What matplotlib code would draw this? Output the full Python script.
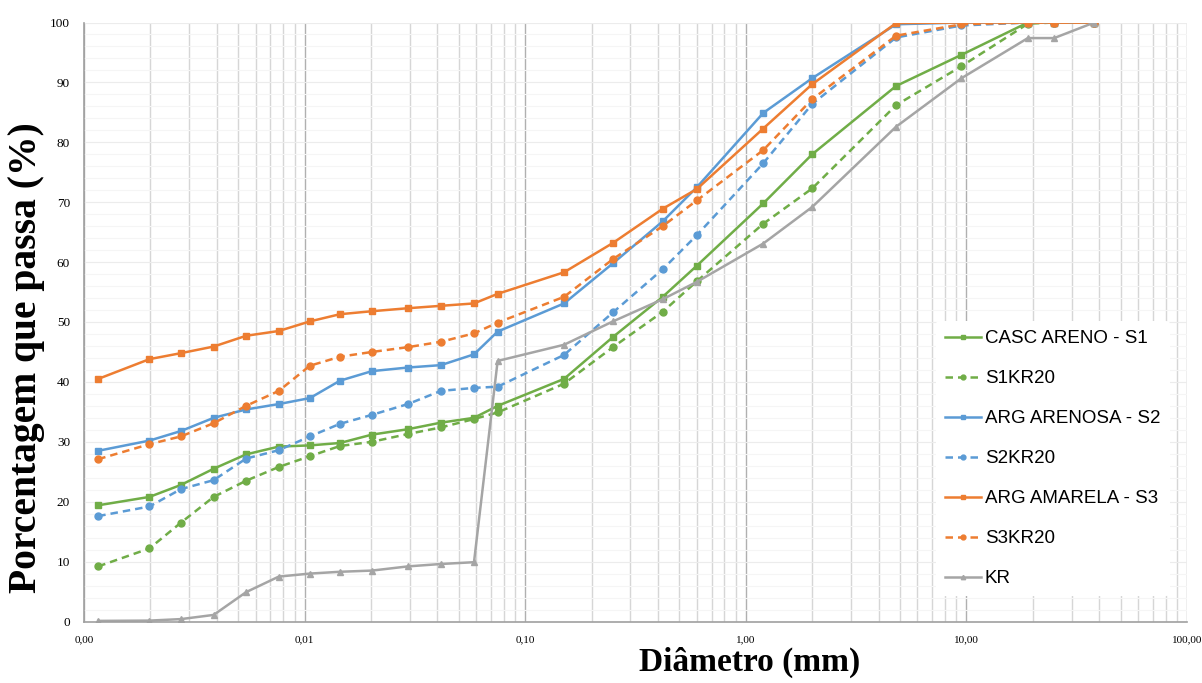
import matplotlib
matplotlib.use('Agg')
import matplotlib.pyplot as plt
from matplotlib.ticker import FixedLocator, LogLocator, MultipleLocator, NullFormatter

# diâmetros (mm): sedimentação + peneiramento
diam = [0.00116, 0.00198, 0.00275, 0.00387, 0.00543, 0.00764, 0.01057, 0.01446,
        0.0202, 0.0294, 0.0415, 0.0586, 0.075, 0.15, 0.25, 0.42, 0.6, 1.2, 2.0,
        4.8, 9.5, 19.0, 25.0, 38.0]

s1 = [19.4, 20.8, 22.8, 25.5, 27.9, 29.2, 29.4, 29.8, 31.2, 32.1, 33.2, 34.0,
      36.0, 40.5, 47.5, 54.2, 59.4, 69.8, 78.0, 89.4, 94.6, 100, 100, 100]
s1kr20 = [9.2, 12.2, 16.5, 20.8, 23.5, 25.8, 27.6, 29.3, 30.0, 31.3, 32.4, 33.8,
          34.9, 39.7, 45.8, 51.7, 56.8, 66.4, 72.3, 86.2, 92.7, 99.8, 100, 100]
s2 = [28.5, 30.2, 31.8, 34.0, 35.4, 36.3, 37.3, 40.2, 41.8, 42.4, 42.8, 44.6,
      48.4, 53.1, 59.8, 66.8, 72.5, 84.9, 90.7, 99.7, 100, 100, 100, 100]
s2kr20 = [17.6, 19.2, 22.1, 23.6, 27.2, 28.6, 30.9, 33.0, 34.5, 36.3, 38.5, 39.0,
          39.2, 44.5, 51.6, 58.8, 64.5, 76.5, 86.4, 97.5, 99.5, 100, 100, 100]
s3 = [40.5, 43.8, 44.8, 45.9, 47.7, 48.5, 50.1, 51.3, 51.8, 52.3, 52.7, 53.1,
      54.7, 58.3, 63.2, 68.9, 72.2, 82.3, 89.7, 99.9, 100, 100, 100, 100]
s3kr20 = [27.1, 29.6, 30.9, 33.1, 36.0, 38.5, 42.7, 44.2, 45.0, 45.8, 46.7, 48.1,
          49.9, 54.2, 60.5, 66.0, 70.3, 78.7, 87.2, 97.8, 99.7, 100, 100, 100]
kr = [0.1, 0.15, 0.4, 1.1, 4.9, 7.5, 8.0, 8.3, 8.5, 9.2, 9.6, 9.9,
      43.5, 46.2, 50.1, 53.8, 56.7, 63.1, 69.2, 82.6, 90.7, 97.4, 97.4, 100]

xticks = [0.001, 0.01, 0.1, 1, 10, 100]
xticklabels = ['0,00', '0,01', '0,10', '1,00', '10,00', '100,00']

verde = '#70AD47'
azul = '#5B9BD5'
laranja = '#ED7D31'
cinza = '#A5A5A5'

fig = plt.figure(figsize=(12.02, 6.83), dpi=100)
ax = fig.add_axes([84 / 1202, 1 - 621.5 / 683, 1103 / 1202, 599 / 683])

series = [
    (s1, 'CASC ARENO - S1', verde, '-', 's', 5),
    (s1kr20, 'S1KR20', verde, '--', 'o', 5),
    (s2, 'ARG ARENOSA - S2', azul, '-', 's', 5),
    (s2kr20, 'S2KR20', azul, '--', 'o', 5),
    (s3, 'ARG AMARELA - S3', laranja, '-', 's', 5),
    (s3kr20, 'S3KR20', laranja, '--', 'o', 5),
    (kr, 'KR', cinza, '-', '^', 4.5),
]
for vals, nome, cor, ls, mk, ms in series:
    ax.plot(diam, vals, color=cor, ls=ls, lw=1.8, marker=mk, ms=ms,
            label=nome, dashes=(3, 2) if ls == '--' else (None, None))

ax.set_xscale('log')
ax.set_xlim(0.001, 100)
ax.set_ylim(0, 100)

ax.xaxis.set_major_locator(FixedLocator(xticks))
ax.set_xticklabels(xticklabels)
ax.xaxis.set_minor_locator(LogLocator(base=10, subs=range(2, 10)))
ax.xaxis.set_minor_formatter(NullFormatter())
ax.yaxis.set_major_locator(MultipleLocator(10))
ax.yaxis.set_minor_locator(MultipleLocator(2))

ax.grid(True, which='major', axis='x', color='#b0b0b0', lw=1)
ax.grid(True, which='minor', axis='x', color='#d6d6d6', lw=1)
ax.grid(True, which='major', axis='y', color='#ececec', lw=0.8)
ax.grid(True, which='minor', axis='y', color='#f5f5f5', lw=0.8)
ax.set_axisbelow(True)

for lado in ['top', 'right']:
    ax.spines[lado].set_visible(False)
for lado in ['left', 'bottom']:
    ax.spines[lado].set_color('#a0a0a0')
    ax.spines[lado].set_linewidth(1.2)

ax.tick_params(which='both', length=0)
ax.tick_params(axis='y', pad=10, labelsize=9.5)
ax.tick_params(axis='x', pad=10, labelsize=8)
for t in ax.get_yticklabels() + ax.get_xticklabels():
    t.set_fontfamily('Liberation Serif')

leg = ax.legend(loc='upper left', bbox_to_anchor=(0.764, 0.518), frameon=True,
                facecolor='white', edgecolor='none', framealpha=1,
                prop={'family': 'Liberation Sans', 'size': 13.5},
                labelspacing=1.22, handlelength=1.9, handletextpad=0.2,
                markerscale=0.7, borderpad=0.5)

fig.text(27 / 1202, 1 - 358 / 683, 'Porcentagem que passa (%)', rotation=90,
         ha='center', va='center', family='Liberation Serif', weight='bold',
         size=28.5)
fig.text(750 / 1202, 1 - 662 / 683, 'Diâmetro (mm)', ha='center', va='center',
         family='Liberation Serif', weight='bold', size=24)

fig.savefig('out.png', dpi=100)
